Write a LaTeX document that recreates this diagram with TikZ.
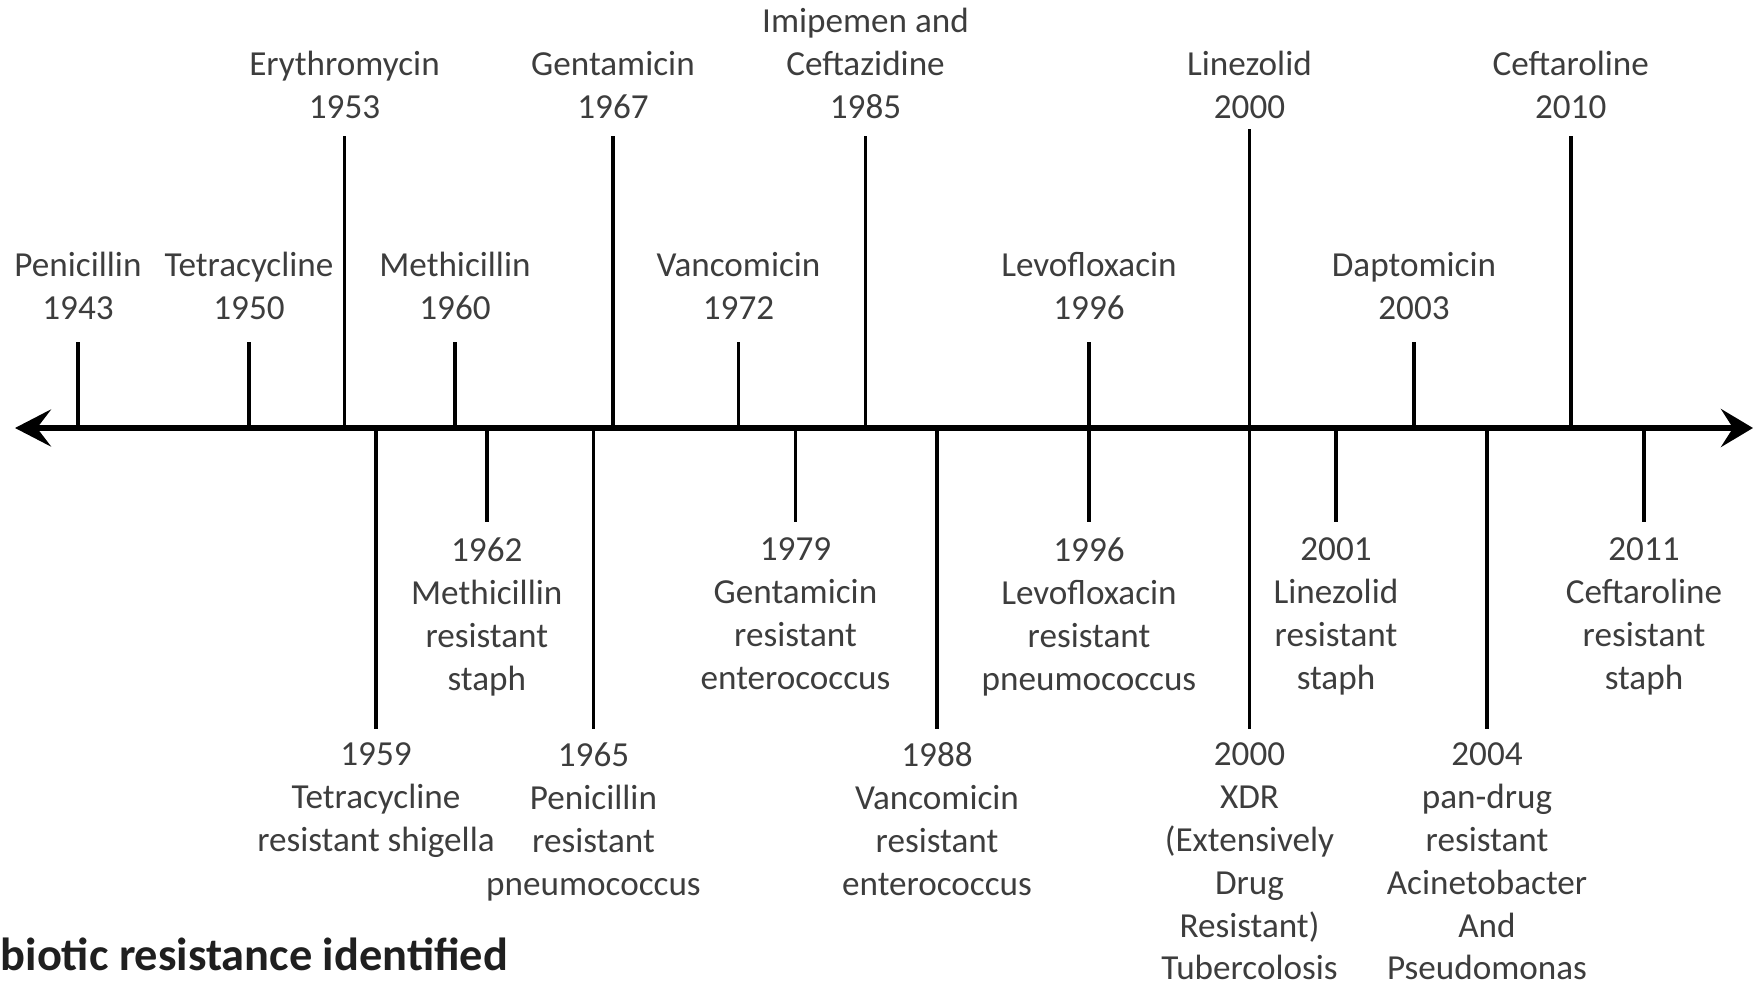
\documentclass[tikz,border=0pt]{standalone}
\usepackage{fontspec}
\setmainfont{Carlito}
\usetikzlibrary{arrows.meta, positioning}

\begin{document}
\begin{tikzpicture}[
  node distance=2.2mm,
  lbl/.style={align=center, inner sep=0pt, text=black!76, font=\fontsize{10}{12.2}\selectfont},
  tickline/.style={line width=1.1pt},
  axisline/.style={{Stealth[length=3.6mm, width=3.7mm, inset=1.4mm]}-{Stealth[length=3.2mm, width=3.8mm, inset=1.2mm]}, line width=1.7pt}
]
\useasboundingbox (0,-5.56) rectangle (17.54,4.28);

% time axis
\coordinate (west) at (0.15,0);
\coordinate (east) at (17.53,0);
\draw[axisline] (west) -- (east);

% antibiotic introduced (above the axis)
\coordinate (a43) at (0.78,0);  \coordinate (t43) at (0.78,0.86);
\coordinate (a50) at (2.49,0);  \coordinate (t50) at (2.49,0.86);
\coordinate (a53) at (3.445,0); \coordinate (t53) at (3.445,2.92);
\coordinate (a60) at (4.55,0);  \coordinate (t60) at (4.55,0.86);
\coordinate (a67) at (6.13,0);  \coordinate (t67) at (6.13,2.92);
\coordinate (a72) at (7.385,0); \coordinate (t72) at (7.385,0.86);
\coordinate (a85) at (8.655,0); \coordinate (t85) at (8.655,2.92);
\coordinate (a96) at (10.89,0); \coordinate (t96) at (10.89,0.86);
\coordinate (a00) at (12.495,0);\coordinate (t00) at (12.495,2.99);
\coordinate (a03) at (14.14,0); \coordinate (t03) at (14.14,0.86);
\coordinate (a10) at (15.707,0);\coordinate (t10) at (15.707,2.92);

\node[lbl, above=of t43] (pen) {Penicillin\\1943};
\node[lbl, above=of t50] (tet) {Tetracycline\\1950};
\node[lbl, above=1.7mm of t53] (ery) {Erythromycin\\1953};
\node[lbl, above=of t60] (met) {Methicillin\\1960};
\node[lbl, above=1.7mm of t67] (gen) {Gentamicin\\1967};
\node[lbl, above=of t72] (van) {Vancomicin\\1972};
\node[lbl, above=1.7mm of t85] (imi) {Imipemen and\\Ceftazidine\\1985};
\node[lbl, above=of t96] (lev) {Levofloxacin\\1996};
\node[lbl, above=1.0mm of t00] (lin) {Linezolid\\2000};
\node[lbl, above=of t03] (dap) {Daptomicin\\2003};
\node[lbl, above=1.7mm of t10] (cef) {Ceftaroline\\2010};

\draw[tickline] (a43) -- (t43);
\draw[tickline] (a50) -- (t50);
\draw[tickline] (a53) -- (t53);
\draw[tickline] (a60) -- (t60);
\draw[tickline] (a67) -- (t67);
\draw[tickline] (a72) -- (t72);
\draw[tickline] (a85) -- (t85);
\draw[tickline] (a96) -- (t96);
\draw[tickline] (a00) -- (t00);
\draw[tickline] (a03) -- (t03);
\draw[tickline] (a10) -- (t10);

% resistance identified (below the axis)
\coordinate (b59) at (3.76,0);   \coordinate (r59) at (3.76,-3.01);
\coordinate (b62) at (4.868,0);  \coordinate (r62) at (4.868,-0.94);
\coordinate (b65) at (5.935,0);  \coordinate (r65) at (5.935,-3.01);
\coordinate (b79) at (7.955,0);  \coordinate (r79) at (7.955,-0.94);
\coordinate (b88) at (9.37,0);   \coordinate (r88) at (9.37,-3.01);
\coordinate (b96) at (10.89,0);  \coordinate (r96) at (10.89,-0.94);
\coordinate (b00) at (12.495,0); \coordinate (r00) at (12.495,-3.01);
\coordinate (b01) at (13.36,0);  \coordinate (r01) at (13.36,-0.94);
\coordinate (b04) at (14.87,0);  \coordinate (r04) at (14.87,-3.01);
\coordinate (b11) at (16.44,0);  \coordinate (r11) at (16.44,-0.94);

\node[lbl, below=1.3mm of r59] (shig) {1959\\Tetracycline\\resistant shigella};
\node[lbl, below=1.5mm of r62] (mrsa) {1962\\Methicillin\\resistant\\staph};
\node[lbl, below=1.3mm of r65] (prsp) {1965\\Penicillin\\resistant\\pneumococcus};
\node[lbl, below=1.5mm of r79] (gre) {1979\\Gentamicin\\resistant\\enterococcus};
\node[lbl, below=1.3mm of r88] (vre) {1988\\Vancomicin\\resistant\\enterococcus};
\node[lbl, below=1.5mm of r96] (lrsp) {1996\\Levofloxacin\\resistant\\pneumococcus};
\node[lbl, below=1.3mm of r00] (xdr) {2000\\XDR\\(Extensively\\Drug\\Resistant)\\Tubercolosis};
\node[lbl, below=1.5mm of r01] (lrsa) {2001\\Linezolid\\resistant\\staph};
\node[lbl, below=1.3mm of r04] (pdr) {2004\\pan-drug\\resistant\\Acinetobacter\\And\\Pseudomonas};
\node[lbl, below=1.5mm of r11] (crsa) {2011\\Ceftaroline\\resistant\\staph};

\draw[tickline] (b59) -- (r59);
\draw[tickline] (b62) -- (r62);
\draw[tickline] (b65) -- (r65);
\draw[tickline] (b79) -- (r79);
\draw[tickline] (b88) -- (r88);
\draw[tickline] (b96) -- (r96);
\draw[tickline] (b00) -- (r00);
\draw[tickline] (b01) -- (r01);
\draw[tickline] (b04) -- (r04);
\draw[tickline] (b11) -- (r11);

\node[anchor=west, inner sep=0pt, text=black!88, font=\bfseries\fontsize{13.2}{15}\selectfont] (legend) at (0,-5.26) {biotic resistance identified};
\end{tikzpicture}
\end{document}
